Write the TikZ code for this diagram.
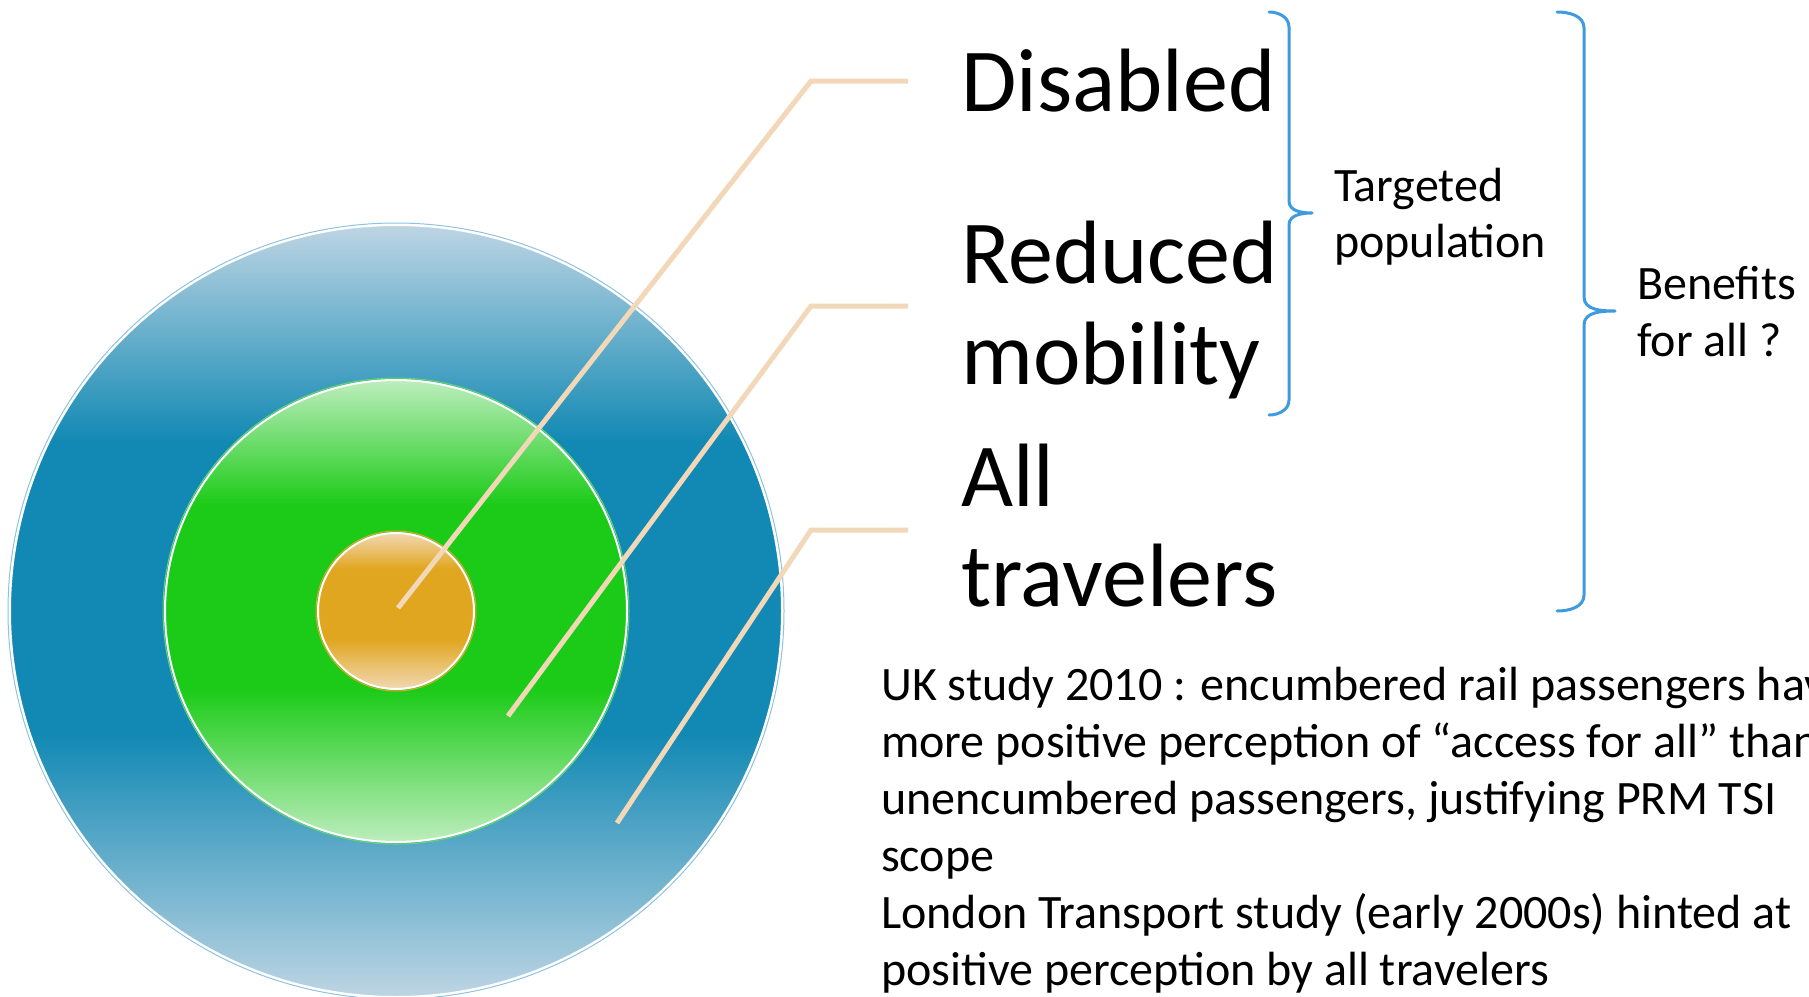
\documentclass[tikz,border=0pt]{standalone}
\usepackage{fontspec}
\setmainfont{Carlito}
\definecolor{leader}{HTML}{F2D8B8}
\definecolor{bracec}{HTML}{3E9BE0}
\definecolor{lblue}{HTML}{BED5E3}
\definecolor{dblue}{HTML}{1289B4}
\definecolor{edgeblue}{HTML}{8EC3E0}
\definecolor{lgreen}{HTML}{BDEDBD}
\definecolor{dgreen}{HTML}{1CCB18}
\definecolor{lorange}{HTML}{F1D8B2}
\definecolor{dorange}{HTML}{E1A61F}
\pgfdeclareverticalshading{outerS}{100bp}{color(0bp)=(lblue); color(25bp)=(lblue); color(42bp)=(dblue); color(61bp)=(dblue); color(75bp)=(lblue); color(100bp)=(lblue)}
\pgfdeclareverticalshading{greenS}{100bp}{color(0bp)=(lgreen); color(25bp)=(lgreen); color(41.5bp)=(dgreen); color(61.5bp)=(dgreen); color(75bp)=(lgreen); color(100bp)=(lgreen)}
\pgfdeclareverticalshading{orangeS}{100bp}{color(0bp)=(lorange); color(25bp)=(lorange); color(41bp)=(dorange); color(63.5bp)=(dorange); color(75bp)=(lorange); color(100bp)=(lorange)}
\tikzset{
  ring/.style={circle, inner sep=0pt, draw=white, line width=2pt},
  rimline/.style={circle, inner sep=0pt, line width=1pt},
  leaderline/.style={draw=leader, line width=5pt},
  bigtext/.style={anchor=base west, inner sep=0pt, font=\fontsize{90}{100}\selectfont},
  midtext/.style={anchor=base west, inner sep=0pt, font=\fontsize{48}{57}\selectfont},
  bracepath/.style={draw=bracec, line width=3pt, line cap=round, line join=round},
}
\begin{document}
\begin{tikzpicture}[x=1pt,y=-1pt]
\useasboundingbox (0,0) rectangle (1809,996);
\clip (0,0) rectangle (1809,996);
\fill[white] (0,0) rectangle (1809,996);
% circles
\node[rimline, draw=edgeblue, minimum size=776pt] (outerrim) at (396,611) {};
\node[ring, minimum size=772pt, shading=outerS] (outer) at (396,611) {};
\node[rimline, draw=dgreen!70, minimum size=466pt] (greenrim) at (396,611) {};
\node[ring, minimum size=462pt, shading=greenS] (green) at (396,611) {};
\node[rimline, draw=dorange, minimum size=160pt] (orangerim) at (396,611) {};
\node[ring, minimum size=156pt, shading=orangeS] (orange) at (396,611) {};
% leader coordinates
\coordinate (s1) at (398,608);
\coordinate (k1) at (811,81);
\coordinate (e1) at (908,81);
\coordinate (s2) at (508,716);
\coordinate (k2) at (811,306);
\coordinate (e2) at (908,306);
\coordinate (s3) at (617,823);
\coordinate (k3) at (811,530);
\coordinate (e3) at (908,530);
\draw[leaderline] (s1) -- (k1) -- (e1);
\draw[leaderline] (s2) -- (k2) -- (e2);
\draw[leaderline] (s3) -- (k3) -- (e3);
% big labels
\node[bigtext] (disabled) at (961,111) {Disabled};
\node[bigtext] (reduced) at (961,283) {Reduced};
\node[bigtext] (mobility) at (961,384) {mobility};
\node[bigtext] (all) at (961,506) {All};
\node[bigtext] (travelers) at (961,606) {travelers};
% brace 1
\coordinate (b1t) at (1269,12);
\coordinate (b1b) at (1269,415);
\coordinate (b1m) at (1312,213);
\draw[bracepath] (b1t) to[out=0,in=90] (1289,27) -- (1289,201)
  to[out=-90,in=180] (b1m) to[out=180,in=90] (1289,225) -- (1289,400)
  to[out=-90,in=0] (b1b);
% brace 2
\coordinate (b2t) at (1557,12);
\coordinate (b2b) at (1557,611);
\coordinate (b2m) at (1615,311);
\draw[bracepath] (b2t) to[out=0,in=90] (1584,28) -- (1584,297)
  to[out=-90,in=180] (b2m) to[out=180,in=90] (1584,325) -- (1584,595)
  to[out=-90,in=0] (b2b);
% brace labels
\node[midtext] (targeted) at (1334,201) {Targeted};
\node[midtext] (population) at (1334,257) {population};
\node[midtext] (benefits) at (1637,299) {Benefits};
\node[midtext] (forall) at (1637,356) {for all ?};
% bottom text (cut at the right edge, as in the reference)
\node[midtext] (t1) at (881,700) {UK study 2010 : encumbered rail passengers have a};
\node[midtext] (t2) at (881,757) {more positive perception of “access for all” than};
\node[midtext] (t3) at (881,814) {unencumbered passengers, justifying PRM TSI};
\node[midtext] (t4) at (881,871) {scope};
\node[midtext] (t5) at (881,928) {London Transport study (early 2000s) hinted at};
\node[midtext] (t6) at (881,985) {positive perception by all travelers};
\end{tikzpicture}
\end{document}
